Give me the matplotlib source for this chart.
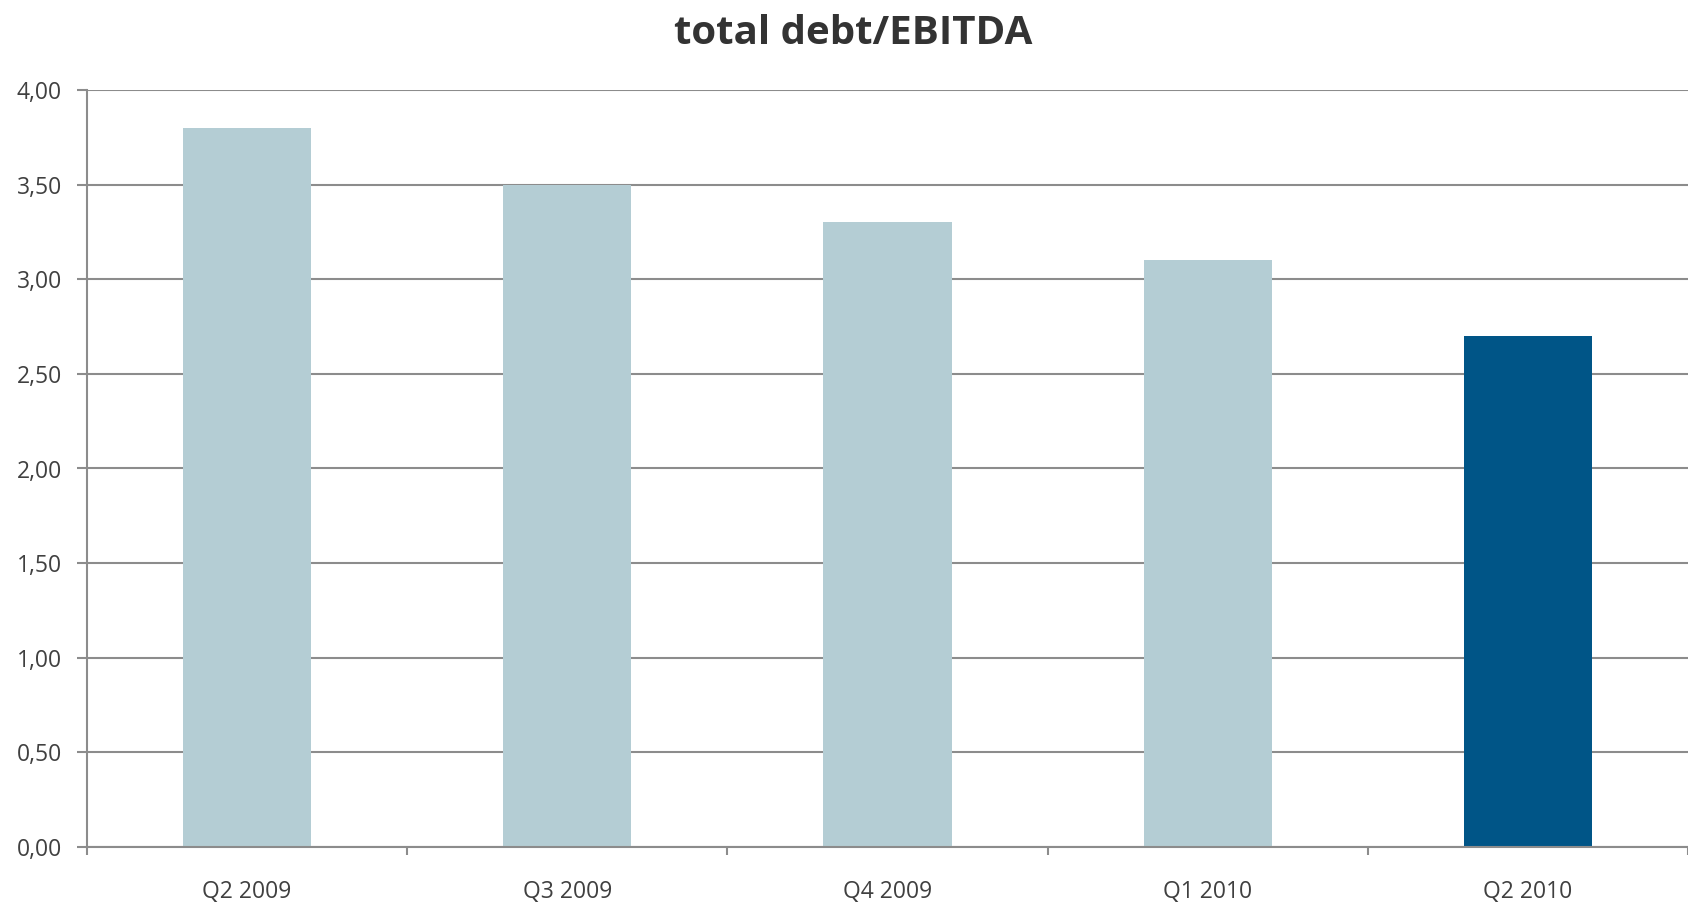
import matplotlib
matplotlib.use("Agg")
import matplotlib.pyplot as plt
from matplotlib.ticker import FixedLocator, FuncFormatter

categories = ["Q2 2009", "Q3 2009", "Q4 2009", "Q1 2010", "Q2 2010"]
values = [3.80, 3.50, 3.30, 3.10, 2.70]
bar_colors = ["#B4CDD4", "#B4CDD4", "#B4CDD4", "#B4CDD4", "#005587"]
yticks = [0.0, 0.5, 1.0, 1.5, 2.0, 2.5, 3.0, 3.5, 4.0]

plt.rcParams["font.family"] = ["Open Sans", "DejaVu Sans"]

DPI = 100
fig = plt.figure(figsize=(1688 / DPI, 905 / DPI), dpi=DPI)
W, H = 1688, 905
ax = fig.add_axes([87 / W, 1 - 847 / H, (1688 - 87) / W, (847 - 90) / H])

x = list(range(len(categories)))
ax.bar(x, values, width=0.4, color=bar_colors, zorder=3)

grid_c = "#8C8C8C"
ax.set_xlim(-0.5, len(categories) - 0.5)
ax.set_ylim(0, 4.0)
ax.set_yticks(yticks)
ax.yaxis.set_major_formatter(FuncFormatter(lambda v, p: f"{v:.2f}".replace(".", ",")))
ax.grid(axis="y", color=grid_c, linewidth=1.5, zorder=1)

for s in ["top", "right"]:
    ax.spines[s].set_visible(False)
for s in ["left", "bottom"]:
    ax.spines[s].set_color(grid_c)
    ax.spines[s].set_linewidth(1.5)
    ax.spines[s].set_zorder(4)

ax.tick_params(axis="y", length=7, width=1.5, color=grid_c, pad=11,
               labelsize=16.5, labelcolor="#404040")
ax.set_xticks(x)
ax.set_xticklabels(categories)
ax.tick_params(axis="x", which="major", length=0, pad=24,
               labelsize=16.5, labelcolor="#404040")
ax.xaxis.set_minor_locator(FixedLocator([i - 0.5 for i in range(len(categories) + 1)]))
ax.tick_params(axis="x", which="minor", length=6, width=1.5, color=grid_c)

fig.text(853 / W, 1 - 34 / H, "total debt/EBITDA", ha="center", va="center",
         fontsize=29, fontweight="bold", color="#333333")

fig.savefig("out.png", dpi=DPI, facecolor="white")
